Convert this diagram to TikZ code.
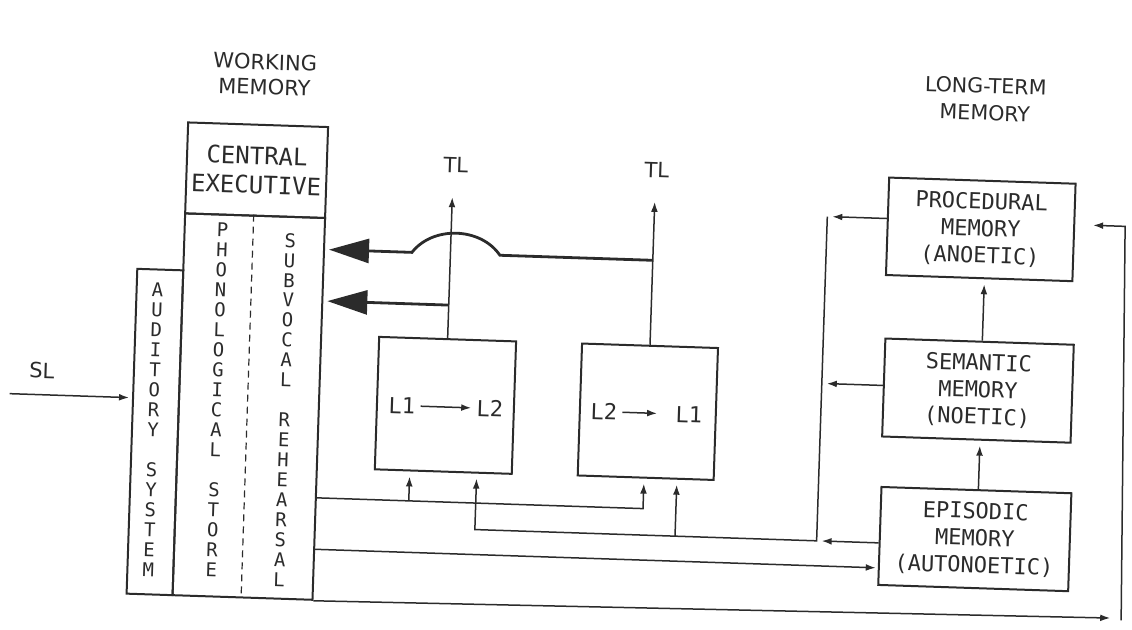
\documentclass[tikz,border=0pt]{standalone}
\usepackage{fontspec}
\setmainfont{DejaVu Sans}
\newfontfamily\monof{DejaVu Sans Mono}
\usetikzlibrary{arrows.meta}
\definecolor{ink}{HTML}{2B2B2B}
\tikzset{
  every node/.style={text=ink},
  boxst/.style={draw=ink, line width=1pt, inner sep=0pt, align=center},
  lbl/.style={font=\monof\fontsize{11}{13.5}\selectfont},
  celbl/.style={font=\monof\fontsize{12}{14.5}\selectfont},
  col/.style={inner sep=0pt, align=center, font=\monof\fontsize{9.5}{10}\selectfont},
  hdr/.style={align=center, font=\fontsize{10.5}{12.5}\selectfont},
  ltxt/.style={inner sep=2.5pt, font=\monof\fontsize{11}{13}\selectfont},
  wire/.style={draw=ink, line width=0.75pt},
  sarrow/.style={draw=ink, line width=0.75pt, -{Latex[length=5pt,width=3.4pt]}, shorten >=2.5pt},
  bigarrow/.style={draw=ink, line width=1.4pt, -{Triangle[length=20pt,width=12pt]}, shorten >=2pt},
  divider/.style={draw=ink, line width=0.6pt, dash pattern=on 3.5pt off 2.5pt}
}
\begin{document}
\begin{tikzpicture}[x=0.5pt, y=-0.5pt]
\useasboundingbox (0,0) rectangle (1132,630);
\begin{scope}[rotate around={-1.89:(566,315)}, transform shape]
% headers
\node[hdr] (wmh) at (257,84.5) {WORKING\\MEMORY};
\node[hdr, font=\fontsize{10.3}{13.5}\selectfont] (ltmh) at (978,85.7) {LONG-TERM\\MEMORY};
% working memory
\node[boxst, celbl, minimum width=70pt, minimum height=45.5pt] (ce) at (252,180.5) {CENTRAL\\EXECUTIVE};
\node[boxst, minimum width=70pt, minimum height=191pt] (wm) at (252,417) {};
\node[boxst, minimum width=23pt, minimum height=162.5pt] (aud) at (159,445.5) {};
\draw[divider] ([xshift=-0.7pt]wm.north) -- ([xshift=-0.7pt]wm.south);
\node[col] (audtxt) at (157,443.6) {A\\U\\D\\I\\T\\O\\R\\Y\\[10pt]S\\Y\\S\\T\\E\\M};
\node[col] (phon) at (220,411.5) {P\\H\\O\\N\\O\\L\\O\\G\\I\\C\\A\\L\\[10pt]S\\T\\O\\R\\E};
\node[col] (subv) at (288,419.3) {S\\U\\B\\V\\O\\C\\A\\L\\[10pt]R\\E\\H\\E\\A\\R\\S\\A\\L};
% SL input
\node[hdr] (sl) at (44,388) {SL};
\coordinate (slstart) at (12.6,412);
\draw[sarrow, shorten >=1.5pt] (slstart) -- (aud.west |- slstart);
% translation boxes
\node[boxst, minimum width=68.5pt, minimum height=66.25pt] (tr1) at (448.5,409.3) {};
\node[boxst, minimum width=68pt, minimum height=66pt] (tr2) at (651,409) {};
\node[ltxt] (a1) at (405,411) {L1};
\node[ltxt] (b1) at (493,411) {L2};
\draw[sarrow, shorten >=0pt] (a1) -- (b1);
\node[ltxt] (a2) at (607,410.4) {L2};
\node[ltxt] (b2) at (692,410.4) {L1};
\draw[sarrow, shorten >=6.5pt] (a2) -- (b2);
% TL outputs
\node[hdr] (tl1) at (451,168.6) {TL};
\node[hdr] (tl2) at (652,167) {TL};
\coordinate (tl1tip) at (448.5,201);
\coordinate (tl2tip) at (651,199);
\draw[sarrow, shorten >=0pt] (tr1.north) -- (tl1tip);
\draw[sarrow, shorten >=0pt] (tr2.north) -- (tl2tip);
% feedback big arrows
\coordinate (j1) at (448.5,309);
\draw[bigarrow] (j1) -- (wm.east |- j1);
\coordinate (j2) at (651,257.5);
\coordinate (bumpR) at (498,257.5);
\coordinate (bumpL) at (410,257.5);
\draw[bigarrow] (j2) -- (bumpR) .. controls (478,230) and (430,230) .. (bumpL) -- (wm.east |- j2);
% long-term memory
\node[boxst, lbl, minimum width=93.25pt, minimum height=48.75pt] (proc) at (977.75,215.75) {PROCEDURAL\\MEMORY\\(ANOETIC)};
\node[boxst, lbl, minimum width=94.25pt, minimum height=49pt] (sem) at (980.25,377) {SEMANTIC\\MEMORY\\(NOETIC)};
\node[boxst, lbl, minimum width=95pt, minimum height=49pt] (epi) at (982,525.5) {EPISODIC\\MEMORY\\(AUTONOETIC)};
\draw[sarrow] ([xshift=1pt]epi.north) -- ([xshift=1pt]epi.north |- sem.south);
\draw[sarrow] ([xshift=1.4pt]sem.north) -- ([xshift=1.4pt]sem.north |- proc.south);
% collector from LTM to translation boxes
\coordinate (vtop) at (824,208);
\coordinate (ysem) at (824,375);
\coordinate (vbot) at (824,532.5);
\draw[sarrow] (proc.west |- vtop) -- (vtop);
\draw[sarrow] (sem.west |- ysem) -- (ysem);
\draw[sarrow] (epi.west |- vbot) -- (vbot);
\draw[sarrow] (vtop) -- (vbot) -| ([xshift=16.75pt]tr1.south);
\draw[sarrow] ([xshift=15.65pt]tr2.south |- vbot) -- ([xshift=15.65pt]tr2.south);
% from working memory to translation boxes
\coordinate (yA) at (0,506);
\draw[sarrow] (wm.east |- yA) -| ([xshift=-0.8pt]tr2.south);
\draw[sarrow] ([xshift=-16.75pt]tr1.south |- yA) -- ([xshift=-16.75pt]tr1.south);
% from working memory to episodic memory
\coordinate (yC) at (0,557.5);
\draw[sarrow, shorten >=1pt] (wm.east |- yC) -- (epi.west |- yC);
% bottom line and right return
\coordinate (dend) at (1120,600);
\draw[sarrow, shorten >=0pt] (wm.south east) -- (dend);
\coordinate (rbot) at (1131,602);
\coordinate (rtop) at (1122,208);
\coordinate (rtip) at (1090,208);
\draw[sarrow, shorten >=0pt] (rbot) -- (rtop) -- (rtip);
\end{scope}
\end{tikzpicture}
\end{document}
